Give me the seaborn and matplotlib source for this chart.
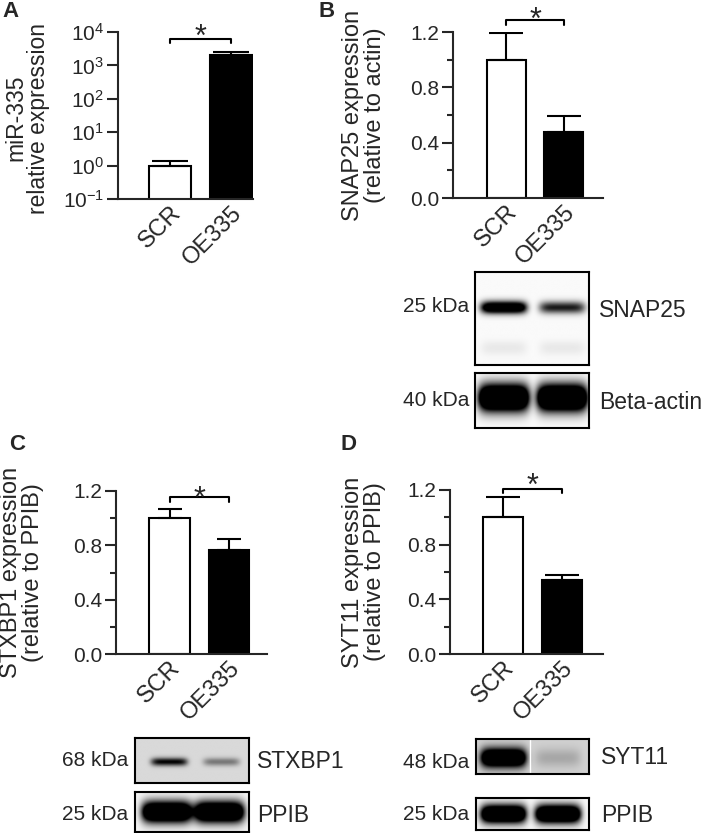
"""
miR-335 overexpression: qPCR / western blot quantification panels.
"""
import matplotlib

matplotlib.use("Agg")
import matplotlib.pyplot as plt
import matplotlib.ticker as mticker
import numpy as np
import pandas as pd
import seaborn as sns

# ---------------------------------------------------------------- data
groups = ["SCR", "OE335"]

mir335_mean = [1.0, 2000.0]
mir335_err = [0.4, 450.0]

snap25_mean = [1.0, 0.48]
snap25_err = [0.19, 0.11]

stxbp1_mean = [1.0, 0.765]
stxbp1_err = [0.065, 0.08]

syt11_mean = [1.0, 0.54]
syt11_err = [0.15, 0.035]

# band darkness per lane (SCR, OE335); > 1 means saturated
snap25_bands = [1.6, 0.9]
actin_bands = [2.2, 2.2]
stxbp1_bands = [1.0, 0.45]
ppib_c_bands = [2.0, 2.0]
syt11_bands = [2.0, 0.2]
ppib_d_bands = [2.0, 2.0]

W, H = 709, 833

sns.set_style("ticks")
plt.rcParams["font.family"] = ["Liberation Sans", "DejaVu Sans"]
plt.rcParams["mathtext.fontset"] = "custom"
plt.rcParams["mathtext.rm"] = "Liberation Sans"
plt.rcParams["mathtext.it"] = "Liberation Sans"

fig = plt.figure(figsize=(W / 100, H / 100), dpi=100)
fig.patch.set_facecolor("white")


def px_axes(x0, y0, x1, y1):
    return fig.add_axes([x0 / W, 1 - y1 / H, (x1 - x0) / W, (y1 - y0) / H])


def px_text(x, y, s, **kw):
    fig.text(x / W, 1 - y / H, s, **kw)


def bar_panel(ax, means, errs, ylabel, xlim, capsize, label_x, label_size=17, label_y=0.5):
    df = pd.DataFrame({"group": groups, "value": means})
    sns.barplot(
        data=df, x="group", y="value", hue="group",
        palette=["white", "black"], edgecolor="black", linewidth=1.5,
        width=0.68, legend=False, errorbar=None, ax=ax,
    )
    ax.errorbar(
        [0, 1], means, yerr=[[0, 0], errs], fmt="none", ecolor="black",
        elinewidth=1.5, capsize=capsize, capthick=1.5, zorder=1,
    )
    sns.despine(ax=ax)
    for s in ["left", "bottom"]:
        ax.spines[s].set_linewidth(1.5)
    ax.set_xlim(*xlim)
    ax.set_xlabel("")
    ax.set_ylabel(ylabel, fontsize=label_size, linespacing=1.0)
    ax.yaxis.set_label_coords(label_x, label_y)
    ax.tick_params(axis="y", which="major", length=8, width=1.5, labelsize=15, pad=2)
    ax.tick_params(axis="y", which="minor", length=4, width=1.5)
    ax.tick_params(axis="x", length=0, labelsize=17, pad=2)
    for t in ax.get_xticklabels():
        t.set_rotation(45)
        t.set_ha("right")
        t.set_va("top")
        t.set_rotation_mode("anchor")


def bracket(ax, y_top, y_low, gap_px):
    # gap_px: distance of the star centre above the bracket line, in pixels
    ax.plot([0, 0, 1, 1], [y_low, y_top, y_top, y_low], color="black",
            lw=1.5, clip_on=False)
    ax.annotate("*", xy=(0.5, y_top), xytext=(0, -(17.8 - gap_px) / 1.389),
                textcoords="offset points", ha="center", va="baseline",
                fontsize=22, annotation_clip=False)


def blot(ax, bands, lanes, half_w, center, sigma, bg, faint=0.0):
    ny, nx = 80, 220
    yy = np.linspace(0, 1, ny)[:, None]
    xx = np.linspace(0, 1, nx)[None, :]
    dark = np.zeros((ny, nx))
    for lane, inten in zip(lanes, bands):
        shape_x = np.exp(-(((xx - lane) / half_w) ** 6))
        dark += inten * shape_x * np.exp(-(((yy - center) / sigma) ** 2))
        if faint:
            dark += faint * shape_x * np.exp(-(((yy - 0.82) / 0.08) ** 2))
    img = bg * (1 - np.clip(dark, 0, 1))
    ax.imshow(img, cmap="gray", vmin=0, vmax=1, aspect="auto",
              extent=(0, 1, 1, 0), interpolation="bilinear")
    ax.set_xticks([])
    ax.set_yticks([])
    for s in ax.spines.values():
        s.set_linewidth(1.5)
        s.set_color("black")


# ============================== A: miR-335 (log scale)
axA = px_axes(118, 32, 253, 199)
bar_panel(axA, mir335_mean, mir335_err, "miR-335\nrelative expression",
          (-0.85, 1.36), 13, -0.50, label_size=16.5, label_y=0.485)
axA.set_yscale("log")
axA.set_ylim(0.1, 1e4)
axA.yaxis.set_major_locator(mticker.FixedLocator([0.1, 1, 10, 100, 1000, 10000]))
axA.yaxis.set_major_formatter(mticker.FixedFormatter(
    ["$10^{-1}$", "$10^{0}$", "$10^{1}$", "$10^{2}$", "$10^{3}$", "$10^{4}$"]))
axA.yaxis.set_minor_locator(mticker.NullLocator())
bracket(axA, 6200, 4700, 11)

# ============================== B: SNAP25
axB = px_axes(453, 32, 603, 198)
bar_panel(axB, snap25_mean, snap25_err, "SNAP25 expression\n(relative to actin)",
          (-0.93, 1.68), 12.5, -0.45)
axB.set_ylim(0, 1.2)
axB.yaxis.set_major_locator(mticker.FixedLocator([0, 0.4, 0.8, 1.2]))
axB.yaxis.set_major_formatter(mticker.FormatStrFormatter("%.1f"))
axB.yaxis.set_minor_locator(mticker.FixedLocator([0.2, 0.6, 1.0]))
bracket(axB, 1.284, 1.25, 9.5)

# ============================== C: STXBP1
axC = px_axes(116, 491, 267, 654)
bar_panel(axC, stxbp1_mean, stxbp1_err, "STXBP1 expression\n(relative to PPIB)",
          (-0.9, 1.64), 8.5, -0.48)
axC.set_ylim(0, 1.2)
axC.yaxis.set_major_locator(mticker.FixedLocator([0, 0.4, 0.8, 1.2]))
axC.yaxis.set_major_formatter(mticker.FormatStrFormatter("%.1f"))
axC.yaxis.set_minor_locator(mticker.FixedLocator([0.2, 0.6, 1.0]))
bracket(axC, 1.155, 1.12, 7)

# ============================== D: SYT11
axD = px_axes(450, 490, 603, 654)
bar_panel(axD, syt11_mean, syt11_err, "SYT11 expression\n(relative to PPIB)",
          (-0.9, 1.69), 12.5, -0.42)
axD.set_ylim(0, 1.2)
axD.yaxis.set_major_locator(mticker.FixedLocator([0, 0.4, 0.8, 1.2]))
axD.yaxis.set_major_formatter(mticker.FormatStrFormatter("%.1f"))
axD.yaxis.set_minor_locator(mticker.FixedLocator([0.2, 0.6, 1.0]))
bracket(axD, 1.21, 1.18, 12)

# ============================== western blots
kda_kw = dict(ha="right", va="center", fontsize=15)
name_kw = dict(ha="left", va="center", fontsize=16.5)

blot(px_axes(475, 272, 589, 365), snap25_bands, [0.25, 0.76], 0.2, 0.38, 0.065, 0.98, faint=0.07)
blot(px_axes(475, 373, 589, 428), actin_bands, [0.25, 0.76], 0.22, 0.45, 0.24, 0.98)
px_text(469, 306, "25 kDa", **kda_kw)
px_text(599, 310, "SNAP25", **name_kw)
px_text(469, 401, "40 kDa", **kda_kw)
px_text(599, 403, "Beta-actin", **name_kw)

blot(px_axes(135, 738, 249, 783), stxbp1_bands, [0.3, 0.76], 0.16, 0.53, 0.09, 0.85)
blot(px_axes(135, 792, 249, 832), ppib_c_bands, [0.28, 0.74], 0.22, 0.5, 0.26, 0.96)
px_text(128, 761, "68 kDa", **kda_kw)
px_text(257, 762, "STXBP1", **name_kw)
px_text(128, 815, "25 kDa", **kda_kw)
px_text(257, 815, "PPIB", **name_kw)

axD1 = px_axes(476, 739, 589, 774)
blot(axD1, syt11_bands, [0.24, 0.72], 0.2, 0.55, 0.26, 0.82)
axD1.axvline(0.48, color="white", lw=1)
blot(px_axes(476, 798, 589, 830), ppib_d_bands, [0.24, 0.72], 0.2, 0.5, 0.28, 0.97)
px_text(469, 762, "48 kDa", **kda_kw)
px_text(601, 757, "SYT11", **name_kw)
px_text(469, 815, "25 kDa", **kda_kw)
px_text(601, 815, "PPIB", **name_kw)

# ============================== panel letters
letter_kw = dict(fontsize=16, fontweight="bold", ha="left", va="top")
px_text(2, 1, "A", **letter_kw)
px_text(318, 1, "B", **letter_kw)
px_text(9, 434, "C", **letter_kw)
px_text(341, 434, "D", **letter_kw)

fig.savefig("out.png", dpi=100, facecolor="white")
